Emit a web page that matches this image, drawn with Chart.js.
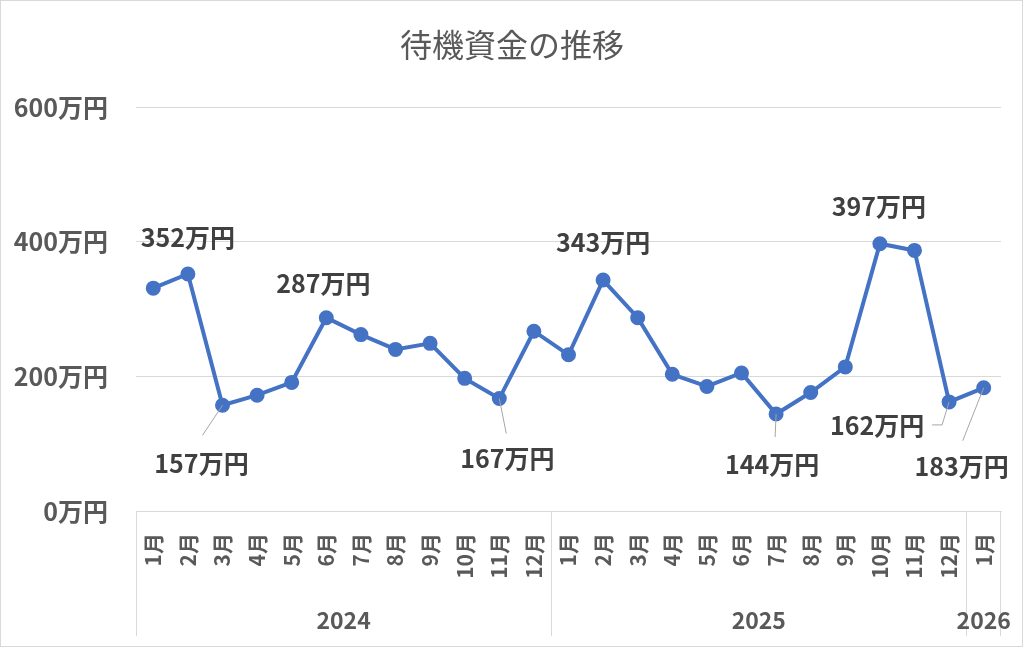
<!DOCTYPE html>
<html><head><meta charset="utf-8">
<script src="https://cdn.jsdelivr.net/npm/chart.js@4.4.1/dist/chart.umd.min.js"></script>
<style>html,body{margin:0;padding:0;background:#fff}#wrap{width:1024px;height:649px}</style>
</head><body><div id="wrap"><canvas id="c" width="1024" height="649"></canvas></div>
<script>
const monthLabels = ['1月','2月','3月','4月','5月','6月','7月','8月','9月','10月','11月','12月','1月','2月','3月','4月','5月','6月','7月','8月','9月','10月','11月','12月','1月'];
const yearGroups = [{label:'2024', from:0, to:11},{label:'2025', from:12, to:23},{label:'2026', from:24, to:24}];
const fundValues = [331, 352, 157, 172, 191, 287, 262, 240, 249, 197, 167, 267, 232, 343, 287, 203, 185, 205, 144, 176, 214, 397, 387, 162, 183];
const yTicks = [0, 200, 400, 600];
const unit = '万円';
const titleText = '待機資金の推移';
// label annotations: index, label offset, leader line points (offsets)
const annotations = [
  {i:1,  dx:0,   dy:-36, leader:null},
  {i:2,  dx:-21, dy:58,  leader:[[-20,30]]},
  {i:5,  dx:-3,  dy:-34, leader:null},
  {i:10, dx:8,   dy:60,  leader:[[7,35]]},
  {i:13, dx:0,   dy:-38, leader:null},
  {i:18, dx:-4,  dy:50,  leader:[[-1,23]]},
  {i:21, dx:-1,  dy:-37, leader:null},
  {i:23, dx:-72, dy:24,  leader:[[-7,23],[-17,23]]},
  {i:24, dx:-22, dy:79,  leader:[[-21,53]]}
];
const FONT = '"Noto Sans CJK JP", "Noto Sans", sans-serif';

const decor = {
  id:'decor',
  afterDraw(chart){
    const ctx = chart.ctx, x = chart.scales.x, area = chart.chartArea;
    ctx.save();
    // frame
    ctx.strokeStyle = '#d9d9d9'; ctx.lineWidth = 1;
    ctx.strokeRect(0.5, 0.5, 1022, 646);
    // title
    ctx.fillStyle = '#595959'; ctx.font = '32px ' + FONT;
    ctx.textAlign = 'center'; ctx.textBaseline = 'middle';
    ctx.fillText(titleText, 512, 45);
    // category box lines
    const top = x.top, bot = x.top + 125;
    const half = (x.getPixelForValue(1) - x.getPixelForValue(0)) / 2;
    ctx.beginPath();
    ctx.moveTo(area.left + 0.5, top); ctx.lineTo(area.left + 0.5, bot);
    ctx.moveTo(area.right - 0.5, top); ctx.lineTo(area.right - 0.5, bot);
    yearGroups.forEach((g, k) => {
      if (k > 0) { const sx = Math.round(x.getPixelForValue(g.from) - half) + 0.5; ctx.moveTo(sx, top); ctx.lineTo(sx, bot); }
    });
    ctx.stroke();
    // year labels
    ctx.fillStyle = '#595959'; ctx.font = 'bold 23px ' + FONT;
    yearGroups.forEach(g => {
      const cx = (x.getPixelForValue(g.from) + x.getPixelForValue(g.to)) / 2;
      ctx.fillText(g.label, cx, top + 109);
    });
    // data labels
    const meta = chart.getDatasetMeta(0);
    ctx.font = 'bold 25px ' + FONT; ctx.fillStyle = '#404040';
    annotations.forEach(a => {
      const p = meta.data[a.i];
      if (a.leader) {
        ctx.strokeStyle = '#a6a6a6'; ctx.lineWidth = 1;
        ctx.beginPath(); ctx.moveTo(p.x, p.y);
        a.leader.forEach(q => ctx.lineTo(p.x + q[0], p.y + q[1]));
        ctx.stroke();
      }
      ctx.fillText(fundValues[a.i] + unit, p.x + a.dx, p.y + a.dy);
    });
    ctx.restore();
  }
};

new Chart(document.getElementById('c'), {
  type:'line',
  data:{ labels: monthLabels, datasets:[{ data: fundValues, borderColor:'#4472C4', backgroundColor:'#4472C4', borderWidth:4, pointRadius:5.5, pointBackgroundColor:'#4472C4', pointBorderColor:'#4472C4', tension:0 }]},
  options:{
    responsive:false, animation:false, devicePixelRatio:1,
    layout:{ padding:{ left:0, right:23, top:107, bottom:8 } },
    plugins:{ legend:{display:false}, tooltip:{enabled:false}, title:{display:false} },
    scales:{
      x:{ offset:true, grid:{display:false, drawTicks:false}, border:{display:true, color:'#d9d9d9', width:1},
          ticks:{ color:'#595959', font:{family:FONT, size:21, weight:'bold'}, minRotation:90, maxRotation:90, padding:22, autoSkip:false },
          afterFit(s){ s.height = 130; s.paddingLeft = 0; s.paddingRight = 0; } },
      y:{ min:0, max:600, afterBuildTicks(s){ s.ticks = yTicks.map(v => ({value:v})); },
          grid:{color:'#d9d9d9', drawTicks:false}, border:{display:false},
          ticks:{ color:'#595959', font:{family:FONT, size:25, weight:'bold'}, padding:28, callback:v => v + unit },
          afterFit(s){ s.width = 136; s.paddingTop = 0; s.paddingBottom = 0; } }
    }
  },
  plugins:[decor]
});
</script></body></html>
